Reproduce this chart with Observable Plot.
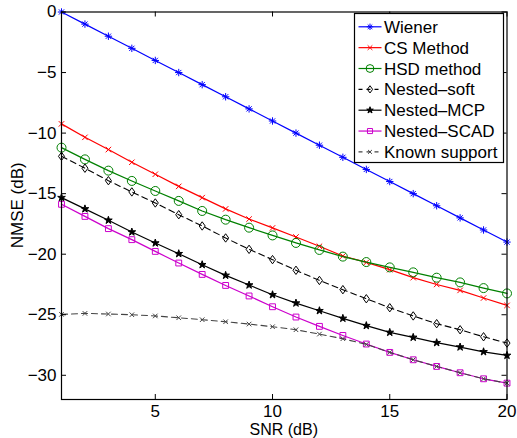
<!DOCTYPE html>
<html><head><meta charset="utf-8">
<script src="https://cdn.jsdelivr.net/npm/d3@7"></script>
<script src="https://cdn.jsdelivr.net/npm/@observablehq/plot@0.6"></script>
<style>
body{margin:0;background:#fff;font-family:"Liberation Sans",Arial,Helvetica,sans-serif}
#chart svg{display:block}
</style>
</head><body><div id="chart"></div>
<script>
// ---- data ----
const snr = [1,2,3,4,5,6,7,8,9,10,11,12,13,14,15,16,17,18,19,20];
const wiener = [0,-1,-2,-3,-4,-5,-6,-7,-8,-9,-10,-11,-12,-13,-14,-15,-16,-17,-18,-19];
const csMethod = [-9.24,-10.35,-11.36,-12.41,-13.40,-14.40,-15.33,-16.26,-17.10,-17.83,-18.58,-19.35,-20.15,-20.68,-21.28,-21.94,-22.50,-22.99,-23.62,-24.23];
const hsdMethod = [-11.20,-12.17,-13.10,-13.95,-14.78,-15.60,-16.43,-17.15,-17.81,-18.45,-19.07,-19.65,-20.20,-20.65,-21.09,-21.50,-21.94,-22.33,-22.80,-23.24];
const nestedSoft = [-11.92,-12.90,-13.93,-14.86,-15.77,-16.74,-17.67,-18.66,-19.60,-20.45,-21.33,-22.17,-22.93,-23.68,-24.42,-25.10,-25.74,-26.24,-26.82,-27.34];
const nestedMCP = [-15.33,-16.26,-17.20,-18.17,-19.08,-19.96,-20.87,-21.75,-22.55,-23.35,-24.04,-24.67,-25.30,-25.90,-26.46,-26.87,-27.31,-27.67,-28.06,-28.36];
const nestedSCAD = [-15.88,-16.88,-17.89,-18.80,-19.77,-20.73,-21.67,-22.58,-23.45,-24.34,-25.19,-25.96,-26.71,-27.42,-28.11,-28.72,-29.27,-29.79,-30.29,-30.65];
const knownSupport = [-24.97,-24.89,-24.94,-25.00,-25.10,-25.25,-25.41,-25.58,-25.77,-25.99,-26.24,-26.60,-26.98,-27.45,-28.11,-28.72,-29.27,-29.79,-30.29,-30.65];
const seriesNames = ["Wiener","CS Method","HSD method","Nested\u2013soft","Nested\u2013MCP","Nested\u2013SCAD","Known support"];
const seriesValues = [wiener, csMethod, hsdMethod, nestedSoft, nestedMCP, nestedSCAD, knownSupport];
const xTickValues = [5,10,15,20];
const yTickValues = [-30,-25,-20,-15,-10,-5,0];
const xLabel = "SNR (dB)";
const yLabel = "NMSE (dB)";

// ---- symbols ----
const asterisk8 = {draw(ctx, size){const r=Math.sqrt(size/Math.PI), d=r*0.7071;
  ctx.moveTo(-r,0);ctx.lineTo(r,0);ctx.moveTo(0,-r);ctx.lineTo(0,r);
  ctx.moveTo(-d,-d);ctx.lineTo(d,d);ctx.moveTo(-d,d);ctx.lineTo(d,-d);}};
const diamondM = {draw(ctx, size){const r=Math.sqrt(size/Math.PI);
  ctx.moveTo(0,-r);ctx.lineTo(0.72*r,0);ctx.lineTo(0,r);ctx.lineTo(-0.72*r,0);ctx.closePath();}};

// ---- styles ----
const styles = [
  {color:"#0000ff", dash:null, symbol:asterisk8, r:3.7, fill:"none", sw:1.2},
  {color:"#ff0000", dash:null, symbol:d3.symbolTimes, r:2.6, fill:"none", sw:1.2},
  {color:"#008000", dash:null, symbol:d3.symbolCircle, r:4.5, fill:"none", sw:1.2},
  {color:"#000000", dash:"6,4", symbol:diamondM, r:4.2, fill:"none", sw:1.1},
  {color:"#000000", dash:null, symbol:d3.symbolStar, r:2.4, fill:"#000000", sw:1.2},
  {color:"#cc00cc", dash:null, symbol:d3.symbolSquare, r:3.3, fill:"none", sw:1.2},
  {color:"#444444", dash:"6,4", symbol:d3.symbolTimes, r:2.2, fill:"none", sw:1.1}
];

const W = 517, H = 438, mL = 61, mR = 10.5, mT = 11.5, mB = 39;
const plotW = W - mL - mR, plotH = H - mT - mB;

const tables = seriesValues.map((vals, i) => snr.map((x, j) => ({x, y: vals[j], s: seriesNames[i]})));

const marks = [];
tables.forEach((t, i) => {
  const st = styles[i];
  marks.push(Plot.line(t, {x:"x", y:"y", stroke: st.color, strokeWidth: st.sw, strokeDasharray: st.dash || undefined}));
  marks.push(Plot.dot(t, {x:"x", y:"y", symbol: st.symbol, r: st.r, stroke: st.color, strokeWidth: 1, fill: st.fill}));
});

const chart = Plot.plot({
  width: W, height: H,
  marginLeft: mL, marginRight: mR, marginTop: mT, marginBottom: mB,
  style: {fontFamily: "'Liberation Sans', Arial, Helvetica, sans-serif", fontSize: "17px", background: "white", color: "black"},
  x: {domain: [1, 20], label: null},
  y: {domain: [-32, 0], label: null},
  marks: [
    ...marks,
    Plot.frame({stroke: "black", strokeWidth: 1.2}),
    Plot.tickX(xTickValues, {x: d => d, insetTop: plotH - 5, stroke: "black"}),
    Plot.tickX(xTickValues, {x: d => d, insetBottom: plotH - 5, stroke: "black"}),
    Plot.tickY(yTickValues, {y: d => d, insetRight: plotW - 5, stroke: "black"}),
    Plot.tickY(yTickValues, {y: d => d, insetLeft: plotW - 5, stroke: "black"}),
    Plot.axisX(xTickValues, {tickSize: 0, tickPadding: 5, fontSize: 17, label: null}),
    Plot.axisY(yTickValues, {tickSize: 0, tickPadding: 5, fontSize: 17, label: null})
  ]
});
document.getElementById("chart").appendChild(chart);

const svg = d3.select(chart);
// axis titles
svg.append("text").attr("x", mL + plotW / 2).attr("y", H - 3.5).attr("text-anchor", "middle")
  .attr("font-size", 16).attr("fill", "black").text(xLabel);
svg.append("text").attr("transform", `translate(17,${mT + plotH / 2}) rotate(-90)`).attr("dy", "0.35em")
  .attr("text-anchor", "middle").attr("font-size", 17).attr("fill", "black").text(yLabel);

// ---- legend (inside the plot, top right) ----
const lg = svg.append("g").attr("transform", "translate(354.5,13.5)");
lg.append("rect").attr("width", 149).attr("height", 149).attr("fill", "white").attr("stroke", "black").attr("stroke-width", 1.2);
seriesNames.forEach((name, i) => {
  const st = styles[i];
  const y = 13.3 + 20.85 * i;
  const g = lg.append("g").attr("transform", `translate(0,${y})`);
  g.append("line").attr("x1", 4).attr("x2", 27).attr("stroke", st.color).attr("stroke-width", st.sw)
    .attr("stroke-dasharray", st.dash ? "4,4" : null);
  g.append("path").attr("transform", "translate(15.5,0)")
    .attr("d", d3.symbol().type(st.symbol).size(Math.PI * st.r * st.r * 0.75)())
    .attr("stroke", st.color).attr("fill", st.fill).attr("stroke-width", 1);
  g.append("text").attr("x", 29.5).attr("dy", "0.36em").attr("text-anchor", "start")
    .attr("font-size", 17).attr("fill", "black").text(name);
});
</script>
</body></html>
